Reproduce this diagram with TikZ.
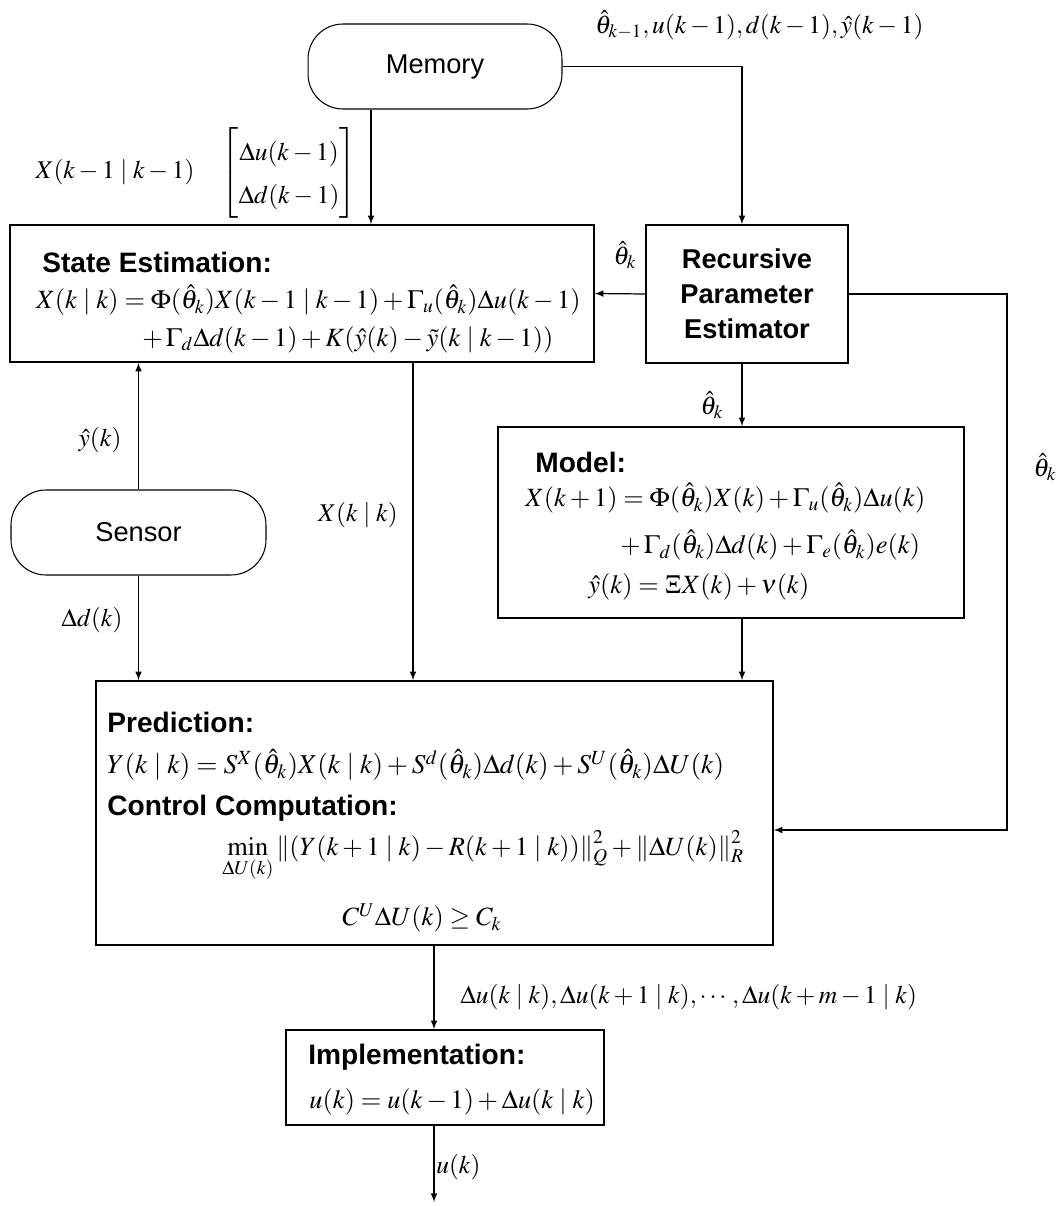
\documentclass[tikz,border=0pt]{standalone}
\usepackage{amsmath}
\usepackage{mathptmx}
\usepackage{fontspec}
\setmainfont{Liberation Sans}
\usetikzlibrary{arrows}

\tikzset{
  boite/.style={draw, line width=0.9pt, inner sep=0pt},
  capsule/.style={draw, line width=0.6pt, rounded corners=0.7cm, inner sep=0pt, font=\fontsize{15.5}{18}\selectfont},
  titre/.style={anchor=west, inner sep=0pt, font=\fontsize{16}{19}\selectfont\bfseries},
  eq/.style={anchor=west, inner sep=0pt, font=\fontsize{15}{18}\selectfont},
  etiq/.style={inner sep=0pt, font=\fontsize{14.5}{17}\selectfont},
  fleche/.style={line width=0.7pt, -latex},
}

\begin{document}
\begin{tikzpicture}[x=0.02cm, y=-0.02cm]
\useasboundingbox (0,0) rectangle (1057,1206);

%les blocs
\node[capsule, minimum width=5.08cm, minimum height=1.7cm] (mem) at (435,66.5) {Memory};
\node[capsule, minimum width=5.1cm, minimum height=1.7cm] (sens) at (138.5,532.5) {Sensor};
\node[boite, minimum width=11.68cm, minimum height=2.74cm] (est) at (302,293.5) {};
\node[boite, minimum width=4.04cm, minimum height=2.76cm, align=center,
      font=\fontsize{15.5}{19.8}\selectfont\bfseries] (rpe) at (747,294)
      {Recursive\\Parameter\\Estimator};
\node[boite, minimum width=9.32cm, minimum height=3.82cm] (mod) at (731,522.5) {};
\node[boite, minimum width=13.54cm, minimum height=5.28cm] (pred) at (434.5,813) {};
\node[boite, minimum width=6.36cm, minimum height=1.9cm] (impl) at (445,1077.5) {};

%textes des blocs
\node[titre] at (42,262) {State Estimation:};
\node[eq] at (36,300) {$X(k\mid k) = \Phi(\hat\theta_k)X(k-1\mid k-1) + \Gamma_u(\hat\theta_k)\Delta u(k-1)$};
\node[eq] at (142,340) {$+\,\Gamma_d\Delta d(k-1) + K(\hat y(k) - \tilde y(k\mid k-1))$};

\node[titre] at (535,462) {Model:};
\node[eq] at (525,498) {$X(k+1) = \Phi(\hat\theta_k)X(k) + \Gamma_u(\hat\theta_k)\Delta u(k)$};
\node[eq] at (620,545) {$+\,\Gamma_d(\hat\theta_k)\Delta d(k) + \Gamma_e(\hat\theta_k)e(k)$};
\node[eq] at (588,587) {$\hat y(k) = \Xi X(k) + \nu(k)$};

\node[titre] at (107,722) {Prediction:};
\node[eq, font=\fontsize{15.5}{18}\selectfont] at (107,765) {$Y(k\mid k) = S^X(\hat\theta_k)X(k\mid k) + S^d(\hat\theta_k)\Delta d(k) + S^U(\hat\theta_k)\Delta U(k)$};
\node[titre] at (107,808) {Control Computation:};
\node[eq] at (222,856) {$\min\limits_{\Delta U(k)} \left\|(Y(k+1\mid k) - R(k+1\mid k))\right\|_Q^2 + \left\|\Delta U(k)\right\|_R^2$};
\node[eq] at (342,918) {$C^U\Delta U(k) \geq C_k$};

\node[titre] at (308,1057) {Implementation:};
\node[eq] at (309,1102) {$u(k) = u(k-1) + \Delta u(k\mid k)$};

%points de passage
\coordinate (xmem) at (371,0);
\coordinate (xmid) at (742,0);
\coordinate (xest) at (413,0);
\coordinate (xout) at (434,0);
\coordinate (retour) at (1007,830);
\coordinate (fin) at (434,1202);

%liaisons
\draw[fleche] (xmem |- mem.south) -- (xmem |- est.north);
\draw[fleche] (mem.east) -| (xmid |- rpe.north);
\draw[fleche] (rpe.west) -- (est.east);
\draw[fleche] (xmid |- rpe.south) -- (xmid |- mod.north);
\draw[fleche] (xmid |- mod.south) -- (xmid |- pred.north);
\draw[fleche] (rpe.east) -| (retour) -- (retour -| pred.east);
\draw[fleche] (sens.north) -- (sens.north |- est.south);
\draw[fleche] (sens.south) -- (sens.south |- pred.north);
\draw[fleche] (xest |- est.south) -- (xest |- pred.north);
\draw[fleche] (xout |- pred.south) -- (xout |- impl.north);
\draw[fleche] (xout |- impl.south) -- (fin);

%étiquettes
\node[etiq, anchor=west] at (595,25) {$\hat\theta_{k-1}, u(k-1), d(k-1), \hat y(k-1)$};
\node[etiq] at (115,172) {$X(k-1\mid k-1)$};
\node[etiq] at (289,173) {\renewcommand{\arraystretch}{1.45}$\begin{bmatrix}\Delta u(k-1)\\ \Delta d(k-1)\end{bmatrix}$};
\node[etiq] at (625,255) {$\hat\theta_k$};
\node[etiq] at (712,405) {$\hat\theta_k$};
\node[etiq] at (1045,467) {$\hat\theta_k$};
\node[etiq] at (100,440) {$\hat y(k)$};
\node[etiq] at (358,515) {$X(k\mid k)$};
\node[etiq] at (92,620) {$\Delta d(k)$};
\node[etiq, anchor=west] at (460,997) {$\Delta u(k\mid k), \Delta u(k+1\mid k), \cdots, \Delta u(k+m-1\mid k)$};
\node[etiq, anchor=west] at (436,1167) {$u(k)$};
\end{tikzpicture}
\end{document}
